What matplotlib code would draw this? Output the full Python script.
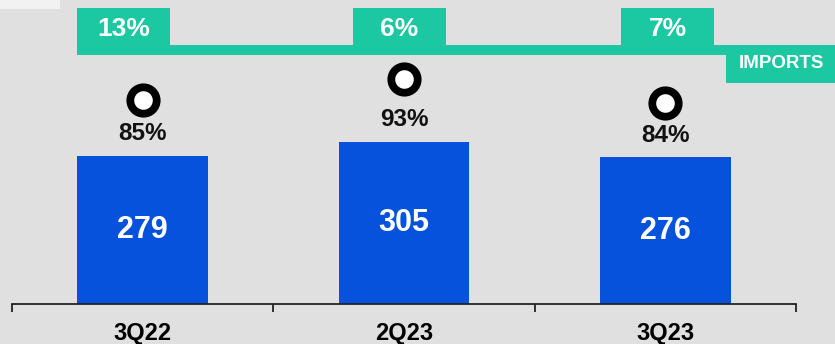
import matplotlib
matplotlib.use("Agg")
import matplotlib.pyplot as plt
from matplotlib.patches import Rectangle

# data
quarters = ["3Q22", "2Q23", "3Q23"]
volumes = [279, 305, 276]
utilisation = [85, 93, 84]      # % shown above each bar, circle marker
import_share = [13, 6, 7]       # % in the green boxes on top

W, H = 835, 344
bg = "#e0e0e0"
blue = "#0652dd"
green = "#1bc8a1"

plt.rcParams["font.family"] = ["Liberation Sans", "DejaVu Sans"]

fig = plt.figure(figsize=(W / 100, H / 100), dpi=100, facecolor=bg)


def px_rect(x0, y0, x1, y1, color):
    # rectangle given in image pixels (origin top-left)
    r = Rectangle((x0 / W, 1 - y1 / H), (x1 - x0) / W, (y1 - y0) / H,
                  transform=fig.transFigure, color=color, lw=0, zorder=0)
    fig.patches.append(r)


# small light box in the top left corner
px_rect(0, 0, 60, 9, "#f2f2f2")

ax = fig.add_axes([12 / W, 40 / H, 784 / W, 304 / H])
ax.patch.set_visible(False)
x = list(range(len(quarters)))
bars = ax.bar(x, volumes, width=0.5, color=blue, zorder=2)
ax.set_xlim(-0.5, len(quarters) - 0.5)
ax.set_ylim(0, 572)

for b, v in zip(bars, volumes):
    ax.text(b.get_x() + b.get_width() / 2, v / 2, str(v), ha="center", va="center",
            color="white", fontsize=22, fontweight="bold", zorder=3)
for b, p in zip(bars, utilisation):
    ax.annotate(f"{p}%", (b.get_x() + b.get_width() / 2, b.get_height()),
                xytext=(0, 16), textcoords="offset points", ha="center", va="center",
                fontsize=17.5, fontweight="bold", color="#111111")

ax.set_xticks(x, quarters)
ax.set_xticks([i - 0.5 for i in range(len(quarters) + 1)], minor=True)
ax.tick_params(axis="x", which="major", length=0, pad=13, labelsize=17)
ax.tick_params(axis="x", which="minor", length=6, width=1.3, color="#222222")
for lab in ax.get_xticklabels():
    lab.set_fontweight("bold")
ax.set_yticks([])
for s in ["top", "right", "left"]:
    ax.spines[s].set_visible(False)
ax.spines["bottom"].set_color("#222222")
ax.spines["bottom"].set_linewidth(1.3)

# utilisation circles on their own scale
ax2 = ax.twinx()
ax2.set_ylim(7.3, 123.1)
ax2.plot(x, utilisation, ls="none", marker="o", ms=19, mew=5.6,
         mfc="white", mec="black", zorder=4)
ax2.axis("off")

# green imports band with boxes
box_left = [77, 353, 621]
box_w = 93
px_rect(77, 45, 835, 55, green)
for left, s in zip(box_left, import_share):
    px_rect(left, 8, left + box_w, 55, green)
    fig.text((left + box_w / 2) / W, 1 - 29 / H, f"{s}%", ha="center", va="center",
             color="white", fontsize=19, fontweight="bold")
px_rect(726, 45, 835, 83, green)
fig.text(781 / W, 1 - 64 / H, "IMPORTS", ha="center", va="center",
         color="white", fontsize=13.5, fontweight="bold")

fig.savefig("out.png", dpi=100, facecolor=bg)
